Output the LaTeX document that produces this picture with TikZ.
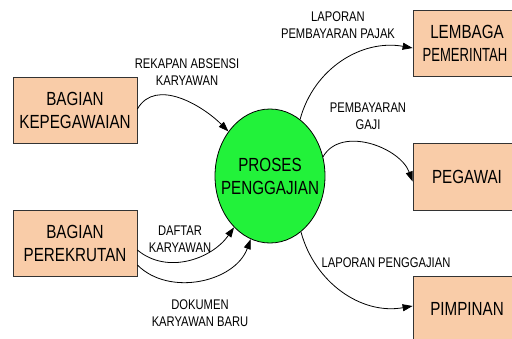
\documentclass[tikz,border=0pt]{standalone}
\usepackage{fontspec}
\setmainfont{Liberation Sans}[FakeStretch=0.8]
\usetikzlibrary{arrows.meta,shapes.geometric}
\definecolor{peach}{RGB}{249,204,168}
\definecolor{hijau}{RGB}{34,242,58}
\begin{document}
\begin{tikzpicture}[x=1pt,y=-1pt,
    entitas/.style={draw=black!80,fill=peach,line width=0.8pt,minimum width=124pt,minimum height=66pt,align=center,font=\fontsize{19}{23}\selectfont},
    proses/.style={draw=black,fill=hijau,ellipse,line width=0.8pt,minimum width=110pt,minimum height=134pt,inner sep=0pt},
    judul/.style={inner sep=0pt,align=center,font=\fontsize{19}{23}\selectfont},
    aliran/.style={line width=0.8pt,-{Triangle[length=10pt,width=7pt]}},
    ket/.style={inner sep=0pt,align=center,font=\fontsize{14}{17}\selectfont}]
    \clip (0,0) rectangle (512,338);
    \useasboundingbox (0,0) rectangle (512,338);
    % entitas luar
    \node [entitas] (kepeg) at (75,110) {BAGIAN\\KEPEGAWAIAN};
    \node [entitas] (rekrut) at (75,243) {BAGIAN\\PEREKRUTAN};
    \node [entitas,minimum width=108pt] (lembaga) at (467,43) {LEMBAGA\\\hspace*{-4pt}\scalebox{0.86}[1]{PEMERINTAH}};
    \node [entitas,minimum width=108pt,minimum height=67pt] (pegawai) at (467,176.5) {PEGAWAI};
    \node [entitas,minimum width=108pt] (pimpinan) at (467,309) {PIMPINAN};
    % proses
    \node [proses] (gaji) at (270,176) {};
    \node [judul] (gajiteks) at (gaji.center) {PROSES\\PENGGAJIAN};
    % aliran data
    \draw [aliran] ([yshift=1pt]kepeg.east) to[out=60,in=135] (gaji.133);
    \draw [aliran] ([yshift=-7pt]rekrut.east) to[out=-40,in=235] (gaji.235);
    \draw [aliran] ([yshift=-22pt]rekrut.east) to[out=-45,in=250] (gaji.253);
    \draw [aliran] (gaji.62) to[out=75,in=170] ([yshift=-5pt]lembaga.west);
    \draw [aliran] (gaji.20) to[out=60,in=110] ([yshift=-5pt]pegawai.west);
    \draw [aliran] (gaji.-61) to[out=-75,in=190] ([yshift=3pt]pimpinan.west);
    % keterangan
    \node [ket] (k1) at (187,72) {REKAPAN ABSENSI\\KARYAWAN};
    \node [ket] (k2) at (180,239) {DAFTAR\\KARYAWAN};
    \node [ket] (k3) at (200,313) {DOKUMEN\\KARYAWAN BARU};
    \node [ket] (k4) at (338,25) {LAPORAN\\PEMBAYARAN PAJAK};
    \node [ket] (k5) at (368,116) {PEMBAYARAN\\GAJI};
    \node [ket] (k6) at (386,263) {LAPORAN PENGGAJIAN};
\end{tikzpicture}
\end{document}
